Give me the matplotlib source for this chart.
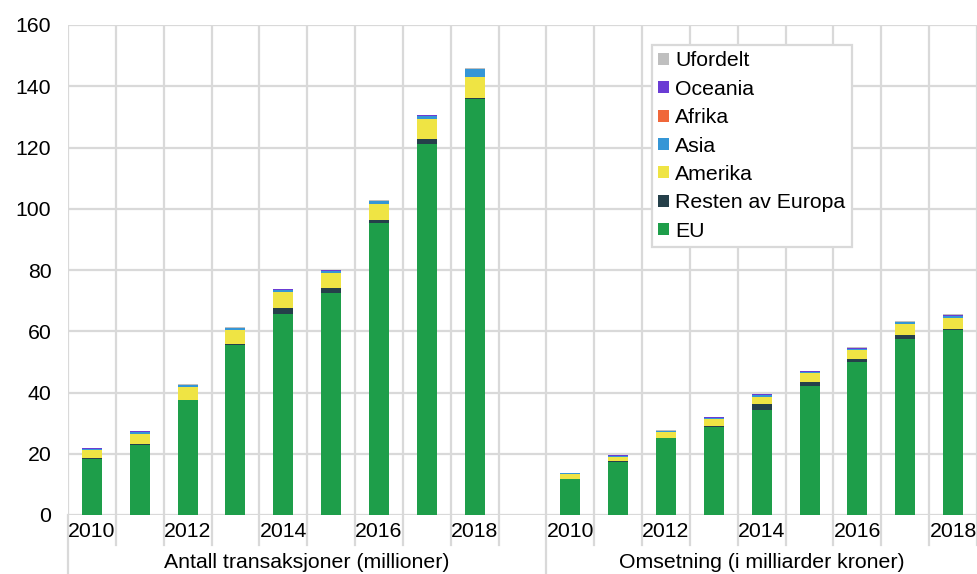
import matplotlib
matplotlib.use("Agg")
import matplotlib.pyplot as plt
from matplotlib.patches import Patch
from matplotlib.lines import Line2D
import numpy as np

plt.rcParams['font.family'] = ['Liberation Sans', 'DejaVu Sans']

years = ["2010", "2011", "2012", "2013", "2014", "2015", "2016", "2017", "2018"]
groups = ["Antall transaksjoner (millioner)", "Omsetning (i milliarder kroner)"]
series_names = ["EU", "Resten av Europa", "Amerika", "Asia", "Afrika", "Oceania", "Ufordelt"]
colors = ["#1E9E4A", "#25404A", "#EFE444", "#3596D6", "#F0673A", "#6A3CD4", "#BFBFBF"]

# Antall transaksjoner (millioner)
antall_eu       = [18.2, 23.0, 37.4, 55.4, 65.5, 72.6, 95.5, 121.0, 135.7]
antall_resten   = [0.3, 0.2, 0.3, 0.4, 2.0, 1.5, 0.8, 1.8, 0.6]
antall_amerika  = [2.7, 3.2, 4.0, 4.5, 5.3, 5.0, 5.4, 6.5, 6.7]
antall_asia     = [0.5, 0.8, 0.7, 0.8, 0.7, 0.7, 0.7, 1.1, 2.5]
antall_afrika   = [0.0, 0.0, 0.0, 0.0, 0.0, 0.0, 0.0, 0.0, 0.0]
antall_oceania  = [0.1, 0.1, 0.15, 0.1, 0.15, 0.15, 0.2, 0.15, 0.25]
antall_ufordelt = [0.15, 0.15, 0.15, 0.1, 0.1, 0.15, 0.3, 0.15, 0.2]

# Omsetning (i milliarder kroner)
oms_eu       = [11.6, 17.4, 25.0, 28.7, 34.4, 42.0, 50.0, 57.5, 60.5]
oms_resten   = [0.2, 0.2, 0.2, 0.3, 1.7, 1.4, 0.9, 1.4, 0.3]
oms_amerika  = [1.5, 1.5, 1.8, 2.2, 2.5, 2.9, 2.9, 3.4, 3.4]
oms_asia     = [0.3, 0.3, 0.4, 0.6, 0.6, 0.5, 0.5, 0.6, 0.9]
oms_afrika   = [0.0, 0.0, 0.0, 0.0, 0.0, 0.0, 0.0, 0.0, 0.0]
oms_oceania  = [0.15, 0.15, 0.15, 0.1, 0.15, 0.15, 0.2, 0.2, 0.25]
oms_ufordelt = [0.1, 0.15, 0.2, 0.1, 0.15, 0.15, 0.3, 0.2, 0.2]

antall = [antall_eu, antall_resten, antall_amerika, antall_asia, antall_afrika, antall_oceania, antall_ufordelt]
oms = [oms_eu, oms_resten, oms_amerika, oms_asia, oms_afrika, oms_oceania, oms_ufordelt]

FS = 15.3
grid_c = "#D9D9D9"

fig = plt.figure(figsize=(9.77, 5.74), dpi=100)
ax = fig.add_axes([68/977, 59/574, 909/977, 490/574])

n = len(years)
x_left = np.arange(n)
x_right = np.arange(n) + n + 1
width = 0.42

for xs, data in [(x_left, antall), (x_right, oms)]:
    bottom = np.zeros(n)
    for vals, c in zip(data, colors):
        v = np.array(vals)
        ax.bar(xs, v, width, bottom=bottom, color=c, zorder=3, linewidth=0)
        bottom += v

total_slots = 2 * n + 1
ax.set_xlim(-0.5, total_slots - 0.5)
ax.set_ylim(0, 160)
ax.set_yticks(np.arange(0, 161, 20))
ax.tick_params(axis='y', length=0, pad=12, labelsize=FS)
ax.set_xticks([])

ax.yaxis.grid(True, color=grid_c, linewidth=1.6, zorder=0)
for b in np.arange(total_slots + 1) - 0.5:
    ax.axvline(b, color=grid_c, linewidth=1.6, zorder=0)

for s in ax.spines.values():
    s.set_visible(False)
ax.axhline(0, color=grid_c, linewidth=1.8, zorder=2)

# year labels
trans = ax.get_xaxis_transform()
for xs in (x_left, x_right):
    for i, xv in enumerate(xs):
        if i % 2 == 0:
            ax.text(xv, -0.034, years[i], transform=trans, ha='center', va='center', fontsize=FS)

# separators below axis
for b in np.arange(total_slots + 1) - 0.5:
    is_group = b in (-0.5, n + 0.5)
    y_end = -0.12 if is_group else -0.061
    ax.add_line(Line2D([b, b], [0, y_end], transform=trans, color=grid_c, linewidth=1.6, clip_on=False))

# group labels
ax.text((-0.5 + n + 0.5) / 2, -0.096, groups[0], transform=trans, ha='center', va='center', fontsize=FS)
ax.text((n + 0.5 + total_slots - 0.5) / 2, -0.096, groups[1], transform=trans, ha='center', va='center', fontsize=FS)

handles = [Patch(facecolor=c, edgecolor='none') for c in colors][::-1]
labels = series_names[::-1]
leg = ax.legend(handles, labels, loc='upper left', bbox_to_anchor=(0.6425, 0.959),
                fontsize=FS, frameon=True, fancybox=False, framealpha=1,
                edgecolor=grid_c, handlelength=0.5, handleheight=0.5,
                handletextpad=0.3, labelspacing=0.44, borderpad=0.3, borderaxespad=0)
leg.get_frame().set_linewidth(1.6)

fig.savefig("out.png", dpi=100)
